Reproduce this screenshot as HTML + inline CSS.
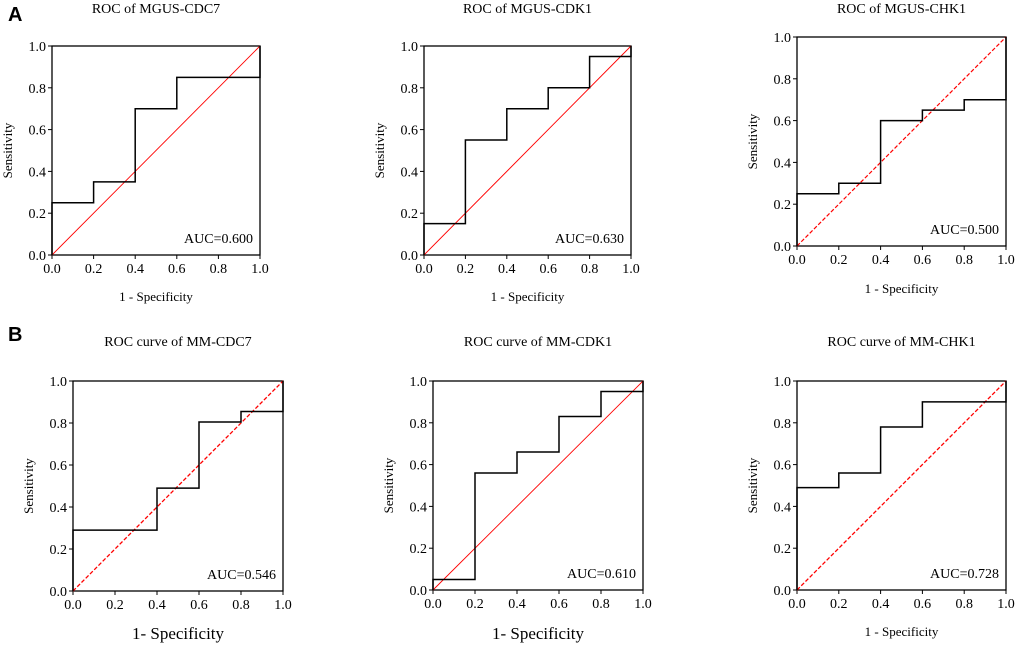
<!DOCTYPE html>
<html><head><meta charset="utf-8">
<style>
html,body{margin:0;padding:0;background:#fff;}
svg{display:block;font-family:"Liberation Serif",serif;}
</style></head>
<body>
<svg id="fig" width="1020" height="647" viewBox="0 0 1020 647" xmlns="http://www.w3.org/2000/svg">
<text x="8" y="21" font-family="Liberation Sans, sans-serif" font-weight="bold" font-size="20">A</text>
<text x="8" y="341" font-family="Liberation Sans, sans-serif" font-weight="bold" font-size="20">B</text>
</svg>
<script>
const ticks = [0, 0.2, 0.4, 0.6, 0.8, 1.0];
const tickLabels = ["0.0","0.2","0.4","0.6","0.8","1.0"];
const titles = ["ROC of  MGUS-CDC7","ROC of  MGUS-CDK1","ROC of  MGUS-CHK1","ROC curve of MM-CDC7","ROC curve of MM-CDK1","ROC curve of MM-CHK1"];
const aucs = ["AUC=0.600","AUC=0.630","AUC=0.500","AUC=0.546","AUC=0.610","AUC=0.728"];
const fprA1 = [0,0,0.2,0.2,0.4,0.4,0.6,0.6,1,1];
const tprA1 = [0,0.25,0.25,0.35,0.35,0.7,0.7,0.85,0.85,1];
const fprA2 = [0,0,0.2,0.2,0.4,0.4,0.6,0.6,0.8,0.8,1,1];
const tprA2 = [0,0.15,0.15,0.55,0.55,0.7,0.7,0.8,0.8,0.95,0.95,1];
const fprA3 = [0,0,0.2,0.2,0.4,0.4,0.6,0.6,0.8,0.8,1,1];
const tprA3 = [0,0.25,0.25,0.3,0.3,0.6,0.6,0.65,0.65,0.7,0.7,1];
const fprB1 = [0,0,0.4,0.4,0.6,0.6,0.8,0.8,1,1];
const tprB1 = [0,0.29,0.29,0.49,0.49,0.805,0.805,0.855,0.855,1];
const fprB2 = [0,0,0.2,0.2,0.4,0.4,0.6,0.6,0.8,0.8,1,1];
const tprB2 = [0,0.05,0.05,0.56,0.56,0.66,0.66,0.83,0.83,0.95,0.95,1];
const fprB3 = [0,0,0.2,0.2,0.4,0.4,0.6,0.6,1,1];
const tprB3 = [0,0.49,0.49,0.56,0.56,0.78,0.78,0.9,0.9,1];

const NS = "http://www.w3.org/2000/svg";
const svg = document.getElementById("fig");
function mk(tag, attrs, parent){
  const e = document.createElementNS(NS, tag);
  for (const k in attrs) e.setAttribute(k, attrs[k]);
  (parent||svg).appendChild(e);
  return e;
}
const layout = [
  {x0:52,x1:260,y0:255,y1:46,ty:13,xly:301,xl:"1 - Specificity",xls:13,diag:"none",dw:0.9},
  {x0:424,x1:631,y0:255,y1:46,ty:13,xly:301,xl:"1 - Specificity",xls:13,diag:"none",dw:0.9},
  {x0:797,x1:1006,y0:246,y1:37,ty:13,xly:293,xl:"1 - Specificity",xls:13,diag:"4,2",dw:1.2},
  {x0:73,x1:283,y0:591,y1:381,ty:346,xly:639,xl:"1- Specificity",xls:17,diag:"4,2",dw:1.3},
  {x0:433,x1:643,y0:590,y1:381,ty:346,xly:639,xl:"1- Specificity",xls:17,diag:"none",dw:0.9},
  {x0:797,x1:1006,y0:590,y1:381,ty:346,xly:636,xl:"1 - Specificity",xls:13,diag:"4,2",dw:1.3}
];
const fprs=[fprA1,fprA2,fprA3,fprB1,fprB2,fprB3];
const tprs=[tprA1,tprA2,tprA3,tprB1,tprB2,tprB3];
layout.forEach((L,i)=>{
  const g = mk("g",{});
  
  
  const sx = v => L.x0 + v*(L.x1-L.x0);
  const sy = v => L.y0 - v*(L.y0-L.y1);
  const cx=(L.x0+L.x1)/2;
  const t = mk("text",{x:cx,y:L.ty,"text-anchor":"middle","font-size":14},g);
  t.textContent = titles[i];
  
  
  const fr = mk("rect",{x:L.x0,y:L.y1,width:L.x1-L.x0,height:L.y0-L.y1,fill:"none",stroke:"#000","stroke-width":1.3},g);
  
  
  ticks.forEach((v,k)=>{
    mk("line",{x1:sx(v),x2:sx(v),y1:L.y0,y2:L.y0+4,stroke:"#000","stroke-width":1},g);
    mk("line",{x1:L.x0-4,x2:L.x0,y1:sy(v),y2:sy(v),stroke:"#000","stroke-width":1},g);
    const xt = mk("text",{x:sx(v),y:L.y0+18,"text-anchor":"middle","font-size":14},g);
    xt.textContent = tickLabels[k];
    
    
    const yt = mk("text",{x:L.x0-6,y:sy(v)+5,"text-anchor":"end","font-size":14},g);
    yt.textContent = tickLabels[k];
    
    
  });
  const xl = mk("text",{x:cx,y:L.xly,"text-anchor":"middle","font-size":L.xls},g);
  xl.textContent = L.xl;
  
  
  const yc=(L.y0+L.y1)/2, yx=L.x0-40;
  const yl = mk("text",{x:yx,y:yc,"text-anchor":"middle","font-size":13,transform:`rotate(-90 ${yx} ${yc})`},g);
  yl.textContent = "Sensitivity";
  
  
  const d = mk("line",{x1:sx(0),y1:sy(0),x2:sx(1),y2:sy(1),stroke:"#f00","stroke-width":L.dw,"stroke-dasharray":L.diag},g);
  
  
  const pts = fprs[i].map((f,k)=>sx(f)+","+sy(tprs[i][k])).join(" ");
  const pl = mk("polyline",{points:pts,fill:"none",stroke:"#000","stroke-width":1.5},g);
  
  
  const a = mk("text",{x:L.x1-7,y:L.y0-12,"text-anchor":"end","font-size":14},g);
  a.textContent = aucs[i];
  
  
});
</script>
</body></html>
